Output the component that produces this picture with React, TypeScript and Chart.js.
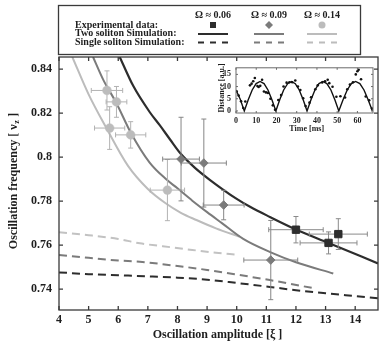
import React, { useEffect, useRef } from 'react';
import { Chart, registerables } from 'chart.js';

Chart.register(...registerables);

const FONT = '"Liberation Serif", "Times New Roman", serif';

// ---------- main axes ----------
const xTicks = [4, 5, 6, 7, 8, 9, 10, 11, 12, 13, 14];
const xTickLabels = ['4', '5', '6', '7', '8', '9', '10', '11', '12', '13', '14'];
const yTicks = [0.74, 0.76, 0.78, 0.8, 0.82, 0.84];
const yTickLabels = ['0.74', '0.76', '0.78', '0.8', '0.82', '0.84'];
const xMin = 4;
const xMax = 14.77;
const yMin = 0.7305;
const yMax = 0.8455;
const xTitle = 'Oscillation amplitude [ξ ]';
const yTitleMain = 'Oscillation frequency [ ν';
const yTitleSub = 'z';
const yTitleEnd = ' ]';

// ---------- legend texts ----------
const omegaLabels = ['Ω ≈ 0.06', 'Ω ≈ 0.09', 'Ω ≈ 0.14'];
const rowLabels = ['Experimental data:', 'Two soliton Simulation:', 'Single soliton Simulation:'];

// ---------- experimental data (Ω ≈ 0.06, squares) ----------
const sqX = [12.0, 13.1, 13.43];
const sqY = [0.767, 0.761, 0.765];
const sqXErr = [0.92, 0.96, 0.98];
const sqYErr = [0.006, 0.005, 0.007];

// ---------- experimental data (Ω ≈ 0.09, diamonds) ----------
const diaX = [8.12, 8.89, 9.56, 11.15];
const diaY = [0.7991, 0.7973, 0.7782, 0.7532];
const diaXErr = [0.62, 0.76, 0.69, 0.91];
const diaYErr = [0.019, 0.02, 0.0067, 0.018];

// ---------- experimental data (Ω ≈ 0.14, circles) ----------
const cirX = [5.62, 5.94, 5.71, 6.42, 7.66];
const cirY = [0.8303, 0.8251, 0.8132, 0.8101, 0.785];
const cirXErr = [0.53, 0.35, 0.51, 0.51, 0.58];
const cirYErr = [0.0089, 0.007, 0.0097, 0.006, 0.0139];

// ---------- two soliton simulation ----------
const two006X = [6.05, 6.5, 7.06, 7.4, 7.75, 8.11, 8.6, 9.09, 10.0, 10.45, 11.12, 12.0, 13.1, 14.77];
const two006Y = [0.8455, 0.8325, 0.8205, 0.8145, 0.808, 0.8015, 0.795, 0.7897, 0.781, 0.7774, 0.7728, 0.7671, 0.761, 0.7517];
const two009X = [5.15, 5.5, 5.94, 6.42, 7.06, 7.63, 8.0, 8.5, 9.0, 9.5, 10.22, 11.15, 12.0, 13.26];
const two009Y = [0.8455, 0.835, 0.8245, 0.8112, 0.7975, 0.7898, 0.7858, 0.7802, 0.775, 0.77, 0.7628, 0.7567, 0.7522, 0.7471];
const two014X = [4.45, 5.0, 5.6, 6.33, 7.0, 7.6, 8.1, 8.64, 9.3, 10.1];
const two014Y = [0.8455, 0.8285, 0.8132, 0.796, 0.7855, 0.779, 0.7748, 0.7714, 0.7676, 0.7638];

// ---------- single soliton simulation ----------
const one006X = [4, 5, 6, 7, 8, 9, 10, 11.12, 12, 13, 14, 14.77];
const one006Y = [0.7476, 0.7468, 0.7463, 0.7458, 0.7452, 0.7443, 0.7428, 0.741, 0.7395, 0.7381, 0.7368, 0.7358];
const one009X = [4, 5, 6, 6.73, 8, 9, 10, 11.12, 12.64];
const one009Y = [0.7555, 0.7542, 0.753, 0.7524, 0.7505, 0.7487, 0.7466, 0.7441, 0.7403];
const one014X = [4, 5, 6, 6.73, 7.5, 8.5, 9.3, 10.0];
const one014Y = [0.7658, 0.7645, 0.7628, 0.7608, 0.7595, 0.7578, 0.7565, 0.7557];

// ---------- inset ----------
const insetXTicks = [0, 10, 20, 30, 40, 50, 60];
const insetYTicks = [0, 5, 10, 15];
const insetXMin = 0;
const insetXMax = 67.7;
const insetYMin = -0.84;
const insetYMax = 17.7;
const insetXTitle = 'Time [ms]';
const insetYTitle = 'Distance [a.u.]';
const fitT = [0, 2.1, 4.1, 6.05, 8.0, 9.95, 11.9, 13.85, 15.8, 17.75, 19.7, 21.6, 23.55, 25.5, 27.4, 29.3, 31.25, 33.2, 35.1, 37.05, 39.0, 41.0, 42.95, 44.9, 46.9, 48.85, 50.8, 52.9, 54.95, 57.0, 59.1, 61.2, 63.25, 65.3, 67.4];
const fitD = [8.6, 4.8, 0, 4.6, 8.6, 11.2, 12.1, 11.2, 8.6, 4.6, 0, 4.6, 8.6, 11.2, 12.1, 11.2, 8.6, 4.6, 0, 4.6, 8.6, 11.2, 12.1, 11.2, 8.6, 4.6, 0, 4.6, 8.6, 11.2, 12.1, 11.2, 8.6, 4.6, 0];
const measT = [0.3, 1.3, 2.5, 3.6, 4.6, 6.9, 7.7, 8.5, 9.3, 10.6, 11.2, 12.0, 12.9, 13.8, 14.8, 15.8, 17.0, 18.2, 19.3, 20.9, 22.3, 23.5, 25.0, 26.4, 27.8, 29.3, 30.6, 31.8, 33.2, 34.4, 36.3, 37.1, 39.2, 40.4, 42.6, 44.0, 45.3, 46.1, 47.7, 49.6, 51.6, 53.9, 55.0, 56.3, 57.8, 59.2, 60.0, 60.6, 61.8, 64.1, 65.8, 67.2];
const measD = [8.1, 6.3, 4.0, 1.2, 3.9, 10.5, 11.2, 12.2, 13.5, 10.2, 9.8, 10.3, 12.8, 8.0, 7.6, 7.4, 5.0, 2.3, 0.5, 4.5, 6.5, 10.0, 11.6, 11.8, 11.8, 12.5, 10.0, 8.6, 5.2, 2.0, 3.4, 5.6, 8.9, 10.5, 11.7, 12.2, 12.8, 11.4, 9.9, 5.8, 6.0, 5.5, 8.9, 10.8, 11.8, 15.0, 16.3, 16.9, 13.0, 5.9, 4.4, 1.0];

const DARK = '#2d2d2d';
const MID = '#7b7b7b';
const LIGHT = '#bcbcbc';
const TEXT = '#1e1e1e';

const pts = (xs: number[], ys: number[]) => xs.map((x, i) => ({ x, y: ys[i] }));
const errPts = (xs: number[], ys: number[], xe: number[], ye: number[]) =>
  xs.map((x, i) => ({ x, y: ys[i], xe: xe[i], ye: ye[i] }));

const curve = (xs: number[], ys: number[], color: string, width: number, dash: number[]) => ({
  data: pts(xs, ys),
  showLine: true,
  borderColor: color,
  backgroundColor: color,
  borderWidth: width,
  borderDash: dash,
  pointRadius: 0,
  fill: false,
  cubicInterpolationMode: 'monotone',
  order: 10,
});

const errorBarPlugin = {
  id: 'errorBars',
  beforeDatasetDraw(chart: any, args: any) {
    const ds = chart.data.datasets[args.index];
    if (!ds.errColor) return;
    const { ctx } = chart;
    const sx = chart.scales.x;
    const sy = chart.scales.y;
    ctx.save();
    ctx.strokeStyle = ds.errColor;
    ctx.lineWidth = 1;
    ctx.beginPath();
    const c = 2.5;
    ds.data.forEach((p: any) => {
      const px = sx.getPixelForValue(p.x);
      const py = sy.getPixelForValue(p.y);
      const x0 = sx.getPixelForValue(p.x - p.xe);
      const x1 = sx.getPixelForValue(p.x + p.xe);
      const y0 = sy.getPixelForValue(p.y - p.ye);
      const y1 = sy.getPixelForValue(p.y + p.ye);
      ctx.moveTo(x0, py); ctx.lineTo(x1, py);
      ctx.moveTo(px, y0); ctx.lineTo(px, y1);
      ctx.moveTo(x0, py - c); ctx.lineTo(x0, py + c);
      ctx.moveTo(x1, py - c); ctx.lineTo(x1, py + c);
      ctx.moveTo(px - c, y0); ctx.lineTo(px + c, y0);
      ctx.moveTo(px - c, y1); ctx.lineTo(px + c, y1);
    });
    ctx.stroke();
    ctx.restore();
  },
};

const makeFramePlugin = (xt: number[], yt: number[], len: number, color: string, lw: number) => ({
  id: 'frame',
  afterDraw(chart: any) {
    const { ctx, chartArea: a } = chart;
    const sx = chart.scales.x;
    const sy = chart.scales.y;
    ctx.save();
    ctx.strokeStyle = color;
    ctx.lineWidth = lw;
    ctx.strokeRect(a.left, a.top, a.right - a.left, a.bottom - a.top);
    ctx.beginPath();
    xt.forEach((v) => {
      const p = sx.getPixelForValue(v);
      ctx.moveTo(p, a.bottom); ctx.lineTo(p, a.bottom - len);
      ctx.moveTo(p, a.top); ctx.lineTo(p, a.top + len);
    });
    yt.forEach((v) => {
      const p = sy.getPixelForValue(v);
      ctx.moveTo(a.left, p); ctx.lineTo(a.left + len, p);
      ctx.moveTo(a.right, p); ctx.lineTo(a.right - len, p);
    });
    ctx.stroke();
    ctx.restore();
  },
});

const mainTextPlugin = {
  id: 'mainText',
  afterDraw(chart: any) {
    const { ctx } = chart;
    ctx.save();
    // legend box
    ctx.strokeStyle = '#3a3a3a';
    ctx.lineWidth = 1.3;
    ctx.strokeRect(58.5, 5.5, 302, 49);
    ctx.fillStyle = TEXT;
    ctx.font = `bold 10px ${FONT}`;
    ctx.textBaseline = 'middle';
    const cols = [213, 269, 322];
    const colors = [DARK, MID, LIGHT];
    ctx.textAlign = 'center';
    omegaLabels.forEach((t, i) => ctx.fillText(t, cols[i], 15));
    ctx.textAlign = 'left';
    const rows = [25, 33.5, 42];
    rowLabels.forEach((t, i) => ctx.fillText(t, 75, rows[i]));
    // markers
    ctx.fillStyle = DARK;
    ctx.fillRect(cols[0] - 3, rows[0] - 3, 6, 6);
    ctx.fillStyle = MID;
    ctx.beginPath();
    ctx.moveTo(cols[1], rows[0] - 4); ctx.lineTo(cols[1] + 4, rows[0]);
    ctx.lineTo(cols[1], rows[0] + 4); ctx.lineTo(cols[1] - 4, rows[0]);
    ctx.closePath(); ctx.fill();
    ctx.fillStyle = LIGHT;
    ctx.beginPath(); ctx.arc(cols[2], rows[0], 3.5, 0, Math.PI * 2); ctx.fill();
    // lines
    ctx.lineWidth = 2;
    cols.forEach((c, i) => {
      ctx.strokeStyle = colors[i];
      ctx.setLineDash([]);
      ctx.beginPath(); ctx.moveTo(c - 15, rows[1] + 0.5); ctx.lineTo(c + 15, rows[1] + 0.5); ctx.stroke();
      ctx.setLineDash([6, 6]);
      ctx.beginPath(); ctx.moveTo(c - 15, rows[2] + 0.5); ctx.lineTo(c + 15, rows[2] + 0.5); ctx.stroke();
    });
    ctx.setLineDash([]);
    // axis titles
    ctx.fillStyle = TEXT;
    ctx.font = `bold 12px ${FONT}`;
    ctx.textAlign = 'center';
    ctx.textBaseline = 'middle';
    ctx.fillText(xTitle, 217.5, 335);
    // y title rotated with subscript
    ctx.translate(14, 181);
    ctx.rotate(-Math.PI / 2);
    ctx.textAlign = 'left';
    const fMain = `bold 12px ${FONT}`;
    const fSub = `bold 8px ${FONT}`;
    ctx.font = fMain;
    const w1 = ctx.measureText(yTitleMain).width;
    const w3 = ctx.measureText(yTitleEnd).width;
    ctx.font = fSub;
    const w2 = ctx.measureText(yTitleSub).width;
    const total = w1 + w2 + w3 + 1;
    let cx = -total / 2;
    ctx.font = fMain;
    ctx.fillText(yTitleMain, cx, 0);
    cx += w1 + 0.5;
    ctx.font = fSub;
    ctx.fillText(yTitleSub, cx, 3);
    cx += w2 + 0.5;
    ctx.font = fMain;
    ctx.fillText(yTitleEnd, cx, 0);
    ctx.restore();
  },
};

const insetTextPlugin = {
  id: 'insetText',
  afterDraw(chart: any) {
    const { ctx } = chart;
    ctx.save();
    ctx.fillStyle = TEXT;
    ctx.font = `bold 8px ${FONT}`;
    ctx.textAlign = 'center';
    ctx.textBaseline = 'middle';
    ctx.fillText(insetXTitle, 98.7, 70.5);
    ctx.translate(14, 30);
    ctx.rotate(-Math.PI / 2);
    ctx.fillText(insetYTitle, 0, 0);
    ctx.restore();
  },
};

const tickFont = (size: number) => ({ family: FONT, size, weight: 'bold' as const });

export default function App() {
  const mainRef = useRef<HTMLCanvasElement | null>(null);
  const insetRef = useRef<HTMLCanvasElement | null>(null);

  useEffect(() => {
    document.body.style.margin = '0';
    const mainCanvas = mainRef.current!;
    const insetCanvas = insetRef.current!;

    const main = new Chart(mainCanvas, {
      type: 'scatter',
      data: {
        datasets: [
          {
            data: errPts(sqX, sqY, sqXErr, sqYErr),
            pointStyle: 'rect',
            pointRadius: 5.2,
            backgroundColor: DARK,
            borderColor: DARK,
            borderWidth: 1,
            errColor: '#8a8a8a',
            order: 1,
          } as any,
          {
            data: errPts(diaX, diaY, diaXErr, diaYErr),
            pointStyle: 'rectRot',
            pointRadius: 4.3,
            backgroundColor: MID,
            borderColor: MID,
            borderWidth: 1,
            errColor: '#858585',
            order: 2,
          } as any,
          {
            data: errPts(cirX, cirY, cirXErr, cirYErr),
            pointStyle: 'circle',
            pointRadius: 4.4,
            backgroundColor: LIGHT,
            borderColor: LIGHT,
            borderWidth: 0.5,
            errColor: '#b2b2b2',
            order: 3,
          } as any,
          curve(two006X, two006Y, DARK, 2.2, []) as any,
          curve(two009X, two009Y, MID, 2, []) as any,
          curve(two014X, two014Y, LIGHT, 2, []) as any,
          curve(one006X, one006Y, DARK, 2, [8, 5]) as any,
          curve(one009X, one009Y, MID, 2, [8, 5]) as any,
          curve(one014X, one014Y, '#c2c2c2', 2, [8, 5]) as any,
        ],
      },
      options: {
        responsive: false,
        animation: false,
        devicePixelRatio: 1,
        events: [],
        layout: { padding: { top: 57, right: 7, left: 0, bottom: 0 } },
        plugins: { legend: { display: false }, tooltip: { enabled: false } },
        scales: {
          x: {
            type: 'linear',
            min: xMin,
            max: xMax,
            grid: { display: false, drawTicks: false },
            border: { display: false },
            afterBuildTicks: (s: any) => { s.ticks = xTicks.map((v) => ({ value: v })); },
            afterFit: (s: any) => { s.height = 38; },
            ticks: {
              padding: 3,
              color: TEXT,
              font: tickFont(12),
              autoSkip: false,
              maxRotation: 0,
              callback: (_v: any, i: number) => xTickLabels[i],
            },
          },
          y: {
            type: 'linear',
            min: yMin,
            max: yMax,
            grid: { display: false, drawTicks: false },
            border: { display: false },
            afterBuildTicks: (s: any) => { s.ticks = yTicks.map((v) => ({ value: v })); },
            afterFit: (s: any) => { s.width = 59; },
            ticks: {
              padding: 7,
              color: TEXT,
              font: tickFont(12),
              autoSkip: false,
              callback: (_v: any, i: number) => yTickLabels[i],
            },
          },
        },
      } as any,
      plugins: [errorBarPlugin, makeFramePlugin(xTicks, yTicks, 4, '#3a3a3a', 1.3), mainTextPlugin],
    });

    const inset = new Chart(insetCanvas, {
      type: 'scatter',
      data: {
        datasets: [
          {
            data: pts(measT, measD),
            pointStyle: 'circle',
            pointRadius: 1.3,
            backgroundColor: '#111',
            borderColor: '#111',
            borderWidth: 0,
            order: 1,
          },
          {
            data: pts(fitT, fitD),
            showLine: true,
            borderColor: '#111',
            borderWidth: 1.4,
            pointRadius: 0,
            tension: 0,
            fill: false,
            order: 2,
          } as any,
        ],
      },
      options: {
        responsive: false,
        animation: false,
        devicePixelRatio: 1,
        events: [],
        layout: { padding: { top: 4.3, right: 7, left: 0, bottom: 0 } },
        plugins: { legend: { display: false }, tooltip: { enabled: false } },
        scales: {
          x: {
            type: 'linear',
            min: insetXMin,
            max: insetXMax,
            grid: { display: false, drawTicks: false },
            border: { display: false },
            afterBuildTicks: (s: any) => { s.ticks = insetXTicks.map((v) => ({ value: v })); },
            afterFit: (s: any) => { s.height = 23; },
            ticks: { padding: 3, color: TEXT, font: tickFont(8), autoSkip: false, maxRotation: 0, callback: (v: any) => String(v) },
          },
          y: {
            type: 'linear',
            min: insetYMin,
            max: insetYMax,
            grid: { display: false, drawTicks: false },
            border: { display: false },
            afterBuildTicks: (s: any) => { s.ticks = insetYTicks.map((v) => ({ value: v })); },
            afterFit: (s: any) => { s.width = 28; },
            ticks: { padding: 5, color: TEXT, font: tickFont(8), autoSkip: false, callback: (v: any) => String(v) },
          },
        },
      } as any,
      plugins: [makeFramePlugin(insetXTicks, insetYTicks, 2, '#6a6a6a', 1), insetTextPlugin],
    });

    return () => {
      main.destroy();
      inset.destroy();
    };
  }, []);

  return (
    <div style={{ position: 'relative', width: 385, height: 348, background: '#fff' }}>
      <canvas ref={mainRef} width={385} height={348} style={{ position: 'absolute', left: 0, top: 0 }} />
      <canvas ref={insetRef} width={172} height={78} style={{ position: 'absolute', left: 208, top: 58 }} />
    </div>
  );
}
